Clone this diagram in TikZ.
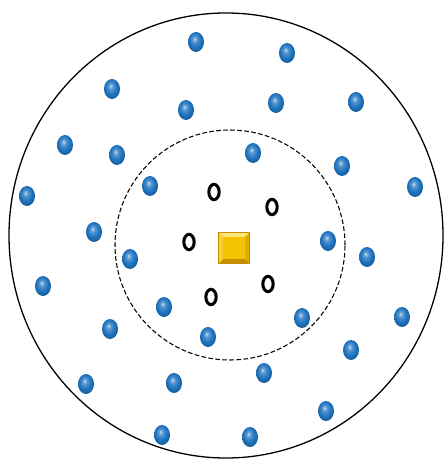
\documentclass[tikz,border=0pt]{standalone}
\usepackage{tikz}
\usetikzlibrary{shapes.geometric, positioning}
\definecolor{dotblue}{HTML}{1F74C0}
\definecolor{sinkgold}{HTML}{F5C400}
\definecolor{sinklight}{HTML}{FFE67A}
\definecolor{sinkdark}{HTML}{C48E00}
\definecolor{sinkmid}{HTML}{E0AE00}
\pgfdeclareradialshading{bluedot}{\pgfpoint{-5bp}{8bp}}{color(0bp)=(dotblue!25!white); color(7bp)=(dotblue!75!white); color(18bp)=(dotblue); color(30bp)=(dotblue!75!black); color(50bp)=(dotblue!45!black)}
\begin{document}
\begin{tikzpicture}[
    x=0.03cm, y=-0.03cm,
    field/.style={ellipse, draw=black, line width=1.1pt, minimum width=13.02cm, minimum height=13.35cm, inner sep=0pt},
    rangering/.style={circle, draw=black, dashed, dash pattern=on 4pt off 2pt, line width=0.9pt, minimum size=6.9cm, inner sep=0pt},
    sensor/.style={ellipse, shading=bluedot, minimum width=0.48cm, minimum height=0.6cm, inner sep=0pt},
    neighbour/.style={ellipse, draw=black, line width=2.6pt, minimum width=0.31cm, minimum height=0.46cm, inner sep=0pt},
    sink/.style={rectangle, fill=sinkgold, minimum size=0.9cm, inner sep=0pt}
]
\useasboundingbox (0,0) rectangle (446,460);

% Regions
\node[field] (area) at (226,235.5) {};
\node[rangering] (zone) at (230,245) {};

% Nodes
\foreach \x/\y [count=\i] in {196/42, 287/53, 112/89, 186/110, 276/103, 356/102,
    65/145, 117/155, 253/153, 342/166, 27/196, 150/186, 415/187,
    94/232, 328/241, 130/259, 367/257, 43/286, 164/307, 302/318, 402/317,
    110/329, 208/337, 351/350, 86/384, 174/383, 264/373, 326/411, 162/435, 250/437}
  \node[sensor] (s\i) at (\x,\y) {};

\foreach \x/\y [count=\i] in {214/192, 272/207, 189/242, 268/284, 211/297}
  \node[neighbour] (n\i) at (\x,\y) {};

% Sink
\node[sink] (base) at (234,248) {};
\fill[sinklight] (base.north west) -- (base.north east) -- ([shift={(-4,4)}]base.north east) -- ([shift={(4,4)}]base.north west) -- cycle;
\fill[sinkdark] (base.south west) -- (base.south east) -- ([shift={(-4,-4)}]base.south east) -- ([shift={(4,-4)}]base.south west) -- cycle;
\fill[sinkgold!60!sinklight] (base.north west) -- (base.south west) -- ([shift={(4,-4)}]base.south west) -- ([shift={(4,4)}]base.north west) -- cycle;
\fill[sinkmid] (base.north east) -- (base.south east) -- ([shift={(-4,-4)}]base.south east) -- ([shift={(-4,4)}]base.north east) -- cycle;
\draw[sinkdark, line width=0.5pt] (base.north west) rectangle (base.south east);

\end{tikzpicture}
\end{document}
